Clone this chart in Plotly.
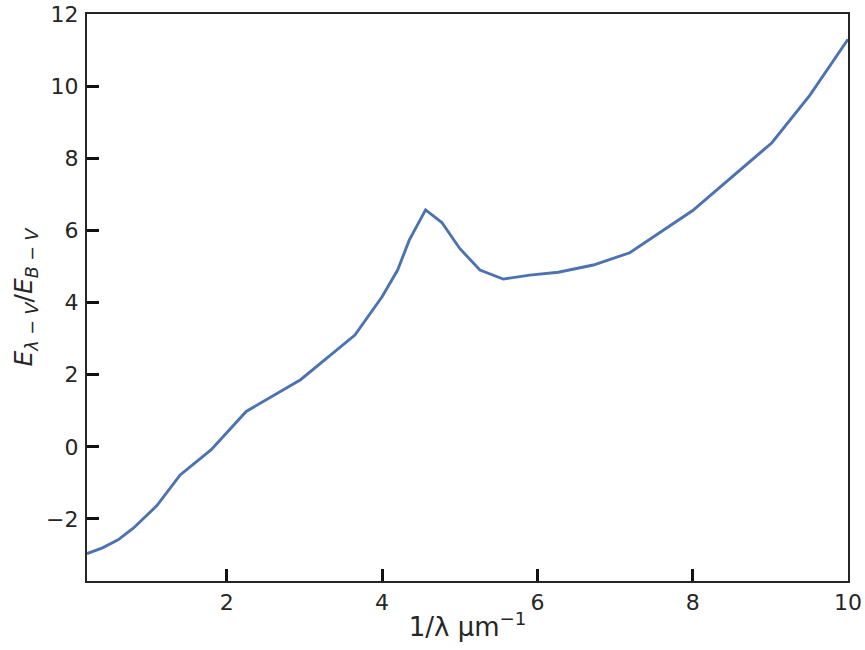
import plotly.graph_objects as go

# Average interstellar extinction curve
inv_wavelength = [0.2, 0.4, 0.6, 0.8, 1.1, 1.4, 1.8, 2.25, 2.95, 3.65, 4.0, 4.2,
                  4.35, 4.56, 4.77, 5.0, 5.26, 5.56, 5.9, 6.27, 6.72, 7.19,
                  8.0, 9.02, 9.51, 10.0]
extinction_ratio = [-2.96, -2.8, -2.58, -2.25, -1.63, -0.78, -0.08, 0.98, 1.86, 3.1,
                    4.16, 4.9, 5.73, 6.57, 6.22, 5.5, 4.9, 4.65, 4.76, 4.84,
                    5.04, 5.38, 6.55, 8.43, 9.75, 11.3]

x_ticks = [2, 4, 6, 8, 10]
y_ticks = [-2, 0, 2, 4, 6, 8, 10, 12]

ink = "#262626"
font_family = "DejaVu Sans"

fig = go.Figure()
fig.add_trace(go.Scatter(
    x=inv_wavelength, y=extinction_ratio, mode="lines",
    line=dict(color="#4C72B0", width=2.9),
    showlegend=False,
))

axis_common = dict(
    showline=True, linecolor=ink, linewidth=2.2, mirror=True,
    ticks="inside", ticklen=12, tickwidth=2.5, tickcolor="#111111",
    showgrid=False, zeroline=False, automargin=False,
    tickfont=dict(family=font_family, size=22, color=ink),
)

fig.update_xaxes(
    range=[0.2, 10], tickvals=x_ticks,
    title=dict(text="1/λ μm<sup>−1</sup>",
               font=dict(family=font_family, size=26, color=ink), standoff=4),
    **axis_common,
)
fig.update_yaxes(
    range=[-3.72, 12], tickvals=y_ticks,
    ticktext=[str(v).replace("-", "−") for v in y_ticks],
    ticklabelstandoff=2,
    title=dict(text="<i>E</i><sub><i>λ</i> − <i>V</i></sub>/<i>E</i><sub><i>B</i> − <i>V</i></sub>",
               font=dict(family=font_family, size=25, color=ink), standoff=6),
    **axis_common,
)

fig.update_layout(
    width=865, height=650,
    margin=dict(l=87, r=17, t=14, b=69),
    plot_bgcolor="white", paper_bgcolor="white",
    font=dict(family=font_family, color=ink),
)

fig.write_html("out.html")
